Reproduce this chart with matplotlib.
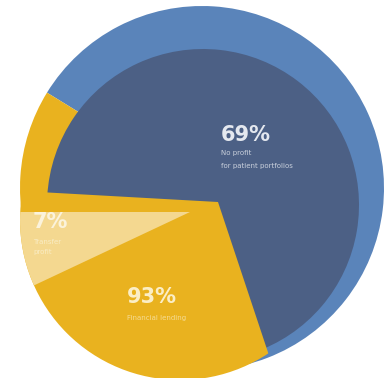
import matplotlib
matplotlib.use("Agg")
import matplotlib.pyplot as plt
from matplotlib.patches import Circle

# shares
main_share = [69, 31]          # blue slice vs gold slice
gold_split = [93, 7]           # gold part vs pale part
big_labels = ["69%", "93%", "7%"]
small_labels = [["No profit", "for patient portfolios"],
                ["Financial lending"],
                ["Transfer", "profit"]]

dark_blue = "#4c6085"
light_blue = "#5a84ba"
gold = "#e9b21f"
pale = "#f4d890"

fig = plt.figure(figsize=(3.92, 3.78), dpi=100)
ax = fig.add_axes([0, 0, 1, 1])

###################
# back "side" ring
###################
ax.pie(main_share, center=(202, 190), radius=182, startangle=-100,
       colors=[light_blue, gold], wedgeprops=dict(linewidth=0))

###################
# front blue slice
###################
ax.pie(main_share, center=(203, 173), radius=156, startangle=-71.6,
       colors=[dark_blue, "none"], wedgeprops=dict(linewidth=0))

###################
# front gold slice (clipped to its own outline)
###################
clip = Circle((180, 158), 160, transform=ax.transData)

w_gold, _ = ax.pie(main_share, center=(218, 176), radius=230, startangle=-71.6,
                   colors=["none", gold], wedgeprops=dict(linewidth=0))
# pale sliver
w_pale, _ = ax.pie(gold_split, center=(190, 166), radius=230, startangle=180,
                   counterclock=False, colors=["none", pale],
                   wedgeprops=dict(linewidth=0))
for w in list(w_gold) + list(w_pale):
    w.set_clip_on(True)
    w.set_clip_path(clip)

###################
# Annotations
###################
txt = dict(family="DejaVu Sans", ha="left", va="center")
ax.text(221, 243, big_labels[0], color="#e4e8ef", fontsize=15, fontweight="bold", **txt)
ax.text(221, 225, small_labels[0][0], color="#c9d0dc", fontsize=5, **txt)
ax.text(221, 212, small_labels[0][1], color="#c9d0dc", fontsize=5, **txt)

ax.text(127, 81, big_labels[1], color="#fbeec6", fontsize=15, fontweight="bold", **txt)
ax.text(127, 60, small_labels[1][0], color="#f6dc95", fontsize=5, **txt)

ax.text(33, 156, big_labels[2], color="#fbf3dc", fontsize=15, fontweight="bold", **txt)
ax.text(33, 136, small_labels[2][0], color="#f9ecc4", fontsize=5, **txt)
ax.text(33, 126, small_labels[2][1], color="#f9ecc4", fontsize=5, **txt)

ax.set_xlim(0, 392)
ax.set_ylim(0, 378)
ax.set_aspect("equal")
ax.axis("off")

plt.savefig("out.png", dpi=100, facecolor="white")
